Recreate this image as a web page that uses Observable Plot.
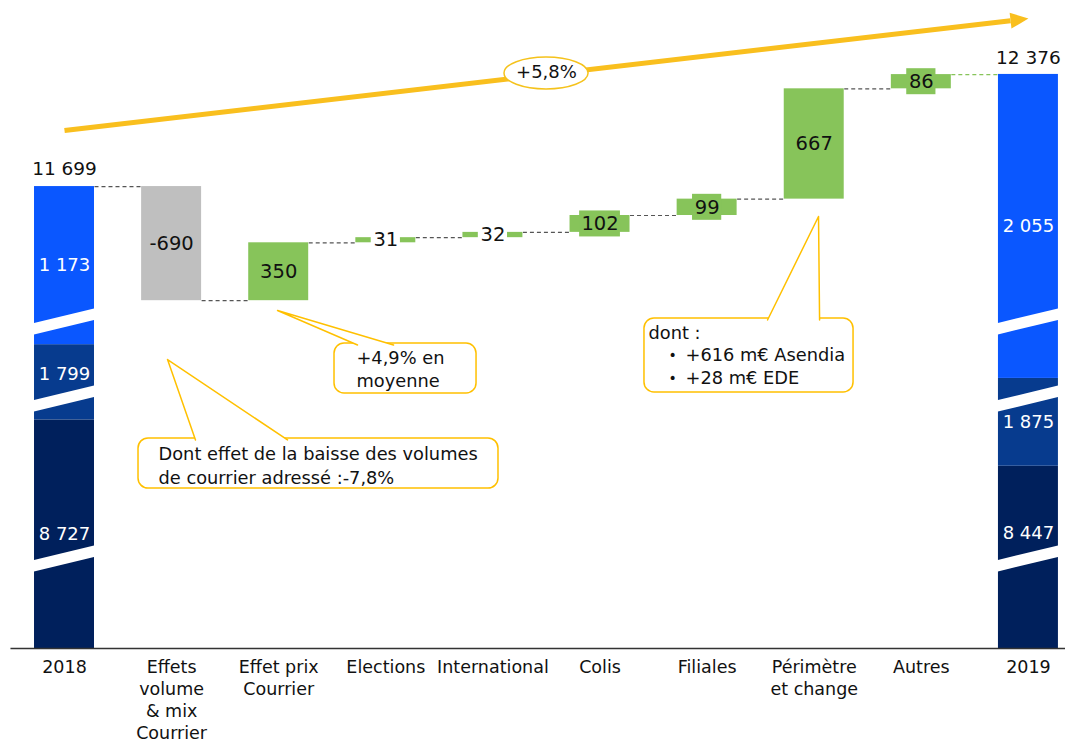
<!DOCTYPE html>
<html><head><meta charset="utf-8">
<script src="https://cdn.jsdelivr.net/npm/d3@7"></script>
<script src="https://cdn.jsdelivr.net/npm/@observablehq/plot@0.6"></script>
<style>
body{margin:0;background:#fff;}
#chart svg{display:block;}
</style></head><body><div id="chart"></div>
<script>
// ---------- data ----------
const categories = ["2018", "Effets\nvolume\n& mix\nCourrier", "Effet prix\nCourrier", "Elections", "International", "Colis", "Filiales", "Périmètre\net change", "Autres", "2019"];
const startTotal = 11699;
const endTotal = 12376;
const deltas = [-690, 350, 31, 32, 102, 99, 667, 86];
const segments2018 = [8727, 1799, 1173];
const segments2019 = [8447, 1875, 2055];
// axis breaks (white stripes): amount of each segment that is cut away
const breakHidden = [7345, 1344, 217];
const breakLevels = [9402, 10369, 10835];
const growthLabel = "+5,8%";
const callout1Text = "Dont effet de la baisse des volumes\nde courrier adressé :-7,8%";
const callout2Text = "+4,9% en\nmoyenne";
const callout3Title = "dont :";
const callout3Bullets = ["+616 m€ Asendia", "+28 m€ EDE"];

// ---------- styling ----------
const segColors = ["#00205c", "#073b8e", "#0a57ff"];
const green = "#87c45a", grey = "#bfbfbf", gold = "#ffc000", arrowGold = "#f9bf1e";
const half = 0.28;
const yMin = d3.sum(breakHidden);
const yMax = 12824;
const pxPerUnit = 648 / (yMax - yMin);
const unitsPerPx = 1 / pxPerUnit;
const pxPerX = 1065 / (9.346 + 0.5976);
const fmt = d3.formatLocale({thousands: " ", grouping: [3], decimal: ",", currency: ["", ""]}).format(",d");

// ---------- derived tables ----------
const rise = 15 * unitsPerPx, thick = 11.5 * unitsPerPx / 2, textHalf = 9 * unitsPerPx;
const totals = [{i: 0, segs: segments2018, total: startTotal}, {i: 9, segs: segments2019, total: endTotal}];
const segRows = [];
for (const t of totals) {
  let cum = 0, hid = 0;
  t.segs.forEach((v, k) => {
    const y1 = yMin + cum - hid;
    cum += v; hid += breakHidden[k];
    const y2 = yMin + cum - hid;
    // label at centre, pushed off a break stripe if it would overlap it
    let ly = (y1 + y2) / 2;
    for (const b of breakLevels) {
      const lo = b - thick, hi = b + rise + thick;
      if (ly + textHalf > lo && ly - textHalf < hi) {
        ly = (y2 - hi >= lo - y1) ? hi + textHalf + 3 * unitsPerPx : lo - textHalf - 3 * unitsPerPx;
      }
    }
    segRows.push({i: t.i, k, v, y1, y2, ly, fill: segColors[k]});
  });
}
const stripes = [];
for (const t of totals) {
  breakLevels.forEach((b, k) => {
    const id = t.i + "-" + k;
    stripes.push({id, x: t.i - half - 0.01, y1: b - thick, y2: b + thick});
    stripes.push({id, x: t.i + half + 0.01, y1: b + rise - thick, y2: b + rise + thick});
  });
}
const deltaRows = [];
let level = startTotal;
deltas.forEach((d, j) => {
  deltaRows.push({i: j + 1, y1: level, y2: level + d, v: d, fill: d < 0 ? grey : green});
  level += d;
});
const connectors = [];
let lv = startTotal;
for (let i = 0; i < 9; i++) {
  connectors.push({x1: i + half, x2: i + 1 - half, y: lv, stroke: i === 8 ? green : "#555"});
  if (i < 8) lv += deltas[i];
}
const labelRows = deltaRows.map(r => ({...r, ym: (r.y1 + r.y2) / 2, txt: String(r.v)}));
const smallLabels = labelRows.filter(r => Math.abs(r.v) < 150).map(r => {
  const w = (String(r.v).length * 11.6 + 6) / 2 / pxPerX;
  return {...r, bx1: r.i - w, bx2: r.i + w, by1: r.ym - 13 * unitsPerPx, by2: r.ym + 13 * unitsPerPx, bg: Math.abs(r.v) < 60 ? "white" : r.fill};
});

// annotations (data coordinates)
const arrowLine = [{x1: 0, y1: 12038, x2: 8.833, y2: 12702}];
const ellipse = [{x1: 4.108, x2: 4.893, y1: 12286, y2: 12479, x: 4.5, y: 12389}];
const boxes = [
  {x1: 0.691, x2: 4.052, y1: 9873, y2: 10176},
  {x1: 2.521, x2: 3.847, y1: 10448, y2: 10750},
  {x1: 5.415, x2: 7.367, y1: 10454, y2: 10901}
];
const tails = [
  {id: 1, x: 1.223, y: 10176 - 9}, {id: 1, x: 0.962, y: 10653}, {id: 1, x: 2.082, y: 10176 - 9},
  {id: 2, x: 2.736, y: 10750 - 9}, {id: 2, x: 1.989, y: 10950}, {id: 2, x: 3.072, y: 10750 - 9},
  {id: 3, x: 6.564, y: 10901 - 9}, {id: 3, x: 7.040, y: 11518}, {id: 3, x: 7.050, y: 10901 - 9}
];
const arrowHead = {draw(ctx) { ctx.moveTo(0, -18); ctx.lineTo(8, 0); ctx.lineTo(-8, 0); ctx.closePath(); }};

const chart = Plot.plot({
  width: 1065, height: 743,
  marginTop: 0, marginBottom: 95, marginLeft: 0, marginRight: 0,
  x: {type: "linear", domain: [-0.5976, 9.346], axis: null},
  y: {domain: [yMin, yMax], axis: null},
  style: {fontFamily: "DejaVu Sans", background: "white", color: "#111"},
  marks: [
    // growth arrow
    Plot.link(arrowLine, {x1: "x1", y1: "y1", x2: "x2", y2: "y2", stroke: arrowGold, strokeWidth: 5}),
    Plot.dot([arrowLine[0]], {x: "x2", y: "y2", symbol: arrowHead, fill: arrowGold, stroke: "none", rotate: 83.4}),
    Plot.rect(ellipse, {x1: "x1", x2: "x2", y1: "y1", y2: "y2", rx: 42, ry: 16, fill: "white", stroke: "#f5c21b", strokeWidth: 1.5}),
    Plot.text(ellipse, {x: "x", y: "y", text: () => growthLabel, fontSize: 18, fill: "#111"}),
    // connectors
    Plot.link(connectors, {x1: "x1", x2: "x2", y1: "y", y2: "y", stroke: "stroke", strokeWidth: 1.2, strokeDasharray: "4,3"}),
    // total stacked bars
    Plot.rect(segRows, {x1: d => d.i - half, x2: d => d.i + half, y1: "y1", y2: "y2", fill: "fill"}),
    Plot.areaY(stripes, {x: "x", y1: "y1", y2: "y2", z: "id", fill: "white", curve: "linear"}),
    Plot.text(segRows, {x: "i", y: "ly", text: d => fmt(d.v), fill: "white", fontSize: 18}),
    Plot.text(totals, {x: "i", y: "total", text: d => fmt(d.total), dy: -17, fontSize: 18.5, fill: "#111"}),
    // delta bars
    Plot.rect(deltaRows, {x1: d => d.i - half, x2: d => d.i + half, y1: "y1", y2: "y2", fill: "fill"}),
    Plot.rect(smallLabels, {x1: "bx1", x2: "bx2", y1: "by1", y2: "by2", fill: "bg"}),
    Plot.text(labelRows, {x: "i", y: "ym", text: "txt", fontSize: 19.5, fill: "#111"}),
    // baseline
    Plot.ruleY([yMin], {x1: -0.5, x2: 9.346, stroke: "#333", strokeWidth: 1.5}),
    Plot.text(categories.map((c, i) => ({i, c})), {x: "i", y: () => yMin, text: "c", dy: 9, lineAnchor: "top", fontSize: 17.5, lineHeight: 1.26, fill: "#111"}),
    // callouts
    Plot.rect(boxes, {x1: "x1", x2: "x2", y1: "y1", y2: "y2", rx: 10, fill: "white", stroke: gold, strokeWidth: 1.5}),
    Plot.line(tails, {x: "x", y: "y", z: "id", fill: "white", stroke: gold, strokeWidth: 1.5, curve: "linear"}),
    Plot.text([callout1Text], {x: 0.878, y: 10018, text: d => d, textAnchor: "start", lineAnchor: "middle", fontSize: 17.8, lineHeight: 1.35, fill: "#111"}),
    Plot.text([callout2Text], {x: 2.726, y: 10602, text: d => d, textAnchor: "start", lineAnchor: "middle", fontSize: 17.8, lineHeight: 1.3, fill: "#111"}),
    Plot.text([callout3Title], {x: 5.453, y: 10811, text: d => d, textAnchor: "start", fontSize: 17.8, fill: "#111"}),
    Plot.text(callout3Bullets, {x: 5.640, y: (d, i) => [10678, 10538][i], text: () => "•", textAnchor: "start", fontSize: 14, fill: "#111"}),
    Plot.text(callout3Bullets, {x: 5.798, y: (d, i) => [10678, 10538][i], text: d => d, textAnchor: "start", fontSize: 17.8, fill: "#111"})
  ]
});
document.getElementById("chart").append(chart);
</script></body></html>
